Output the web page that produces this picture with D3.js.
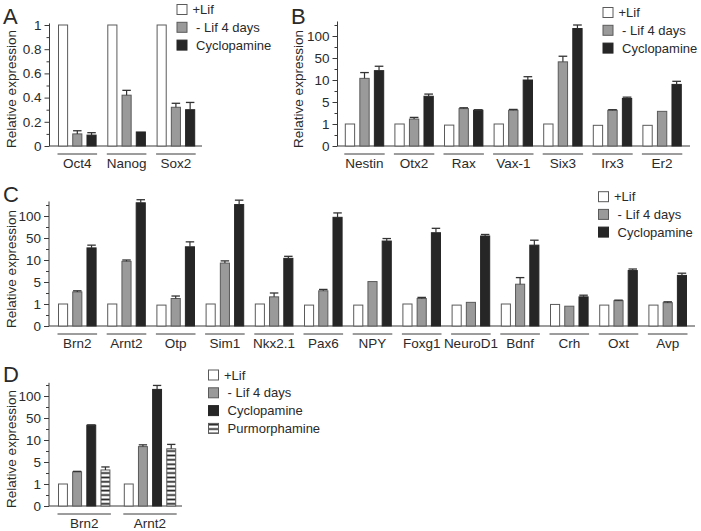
<!DOCTYPE html>
<html>
<head>
<meta charset="utf-8">
<script src="https://cdn.jsdelivr.net/npm/d3@7"></script>
<style>
  body { margin: 0; background: #fff; }
  svg { display: block; font-family: "Liberation Sans", Arial, Helvetica, sans-serif; }
  text { fill: #2a2a2a; }
</style>
</head>
<body>
<svg id="chart" width="701" height="531"></svg>
<script>
// ---------- DATA ----------
const legendLabels = ["+Lif", " - Lif 4 days", " Cyclopamine"];
const legendLabelsD = ["+Lif", " - Lif 4 days", " Cyclopamine", " Purmorphamine"];

const linTicks = [0, 0.2, 0.4, 0.6, 0.8, 1];
const linMinor = [0.1, 0.3, 0.5, 0.7, 0.9];
const logTicks = [0, 1, 5, 10, 50, 100];
const logMinor = [0.5, 3, 7.5, 30, 75, 125];
const logSteps = [0, 1, 5, 10, 50, 100, 150];

// Panel A
const aGenes = ["Oct4", "Nanog", "Sox2"];
const aLif = [1, 1, 1];
const aNoLif = [0.10, 0.42, 0.32];
const aNoLifErr = [0.126, 0.46, 0.353];
const aCyclo = [0.09, 0.116, 0.30];
const aCycloErr = [0.11, 0.116, 0.36];

// Panel B
const bGenes = ["Nestin", "Otx2", "Rax", "Vax-1", "Six3", "Irx3", "Er2"];
const bLif = [1, 1, 0.95, 1, 1, 0.94, 0.94];
const bNoLif = [13, 1.9, 3.8, 3.5, 43, 3.5, 3.3];
const bNoLifErr = [23.5, 2.2, 3.95, 3.65, 54, 3.6, 3.3];
const bCyclo = [27, 6.3, 3.5, 10, 117, 5.8, 9.0];
const bCycloErr = [35, 6.8, 3.6, 16, 125, 6.1, 9.7];

// Panel C
const cGenes = ["Brn2", "Arnt2", "Otp", "Sim1", "Nkx2.1", "Pax6", "NPY", "Foxg1", "NeuroD1", "Bdnf", "Crh", "Oxt", "Avp"];
const cLif = [1, 1, 0.95, 1, 1, 0.95, 0.95, 1, 0.95, 1, 0.98, 0.95, 0.95];
const cNoLif = [3.2, 9.7, 2.0, 9.3, 2.3, 3.4, 5.1, 2.0, 1.3, 4.6, 0.9, 1.6, 1.24];
const cNoLifErr = [3.4, 10, 2.45, 9.8, 3.0, 3.65, 5.1, 2.2, 1.3, 6.0, 0.9, 1.7, 1.4];
const cCyclo = [32, 130, 34, 126, 13, 97, 44.5, 62, 54.5, 37, 2.3, 7.6, 6.5];
const cCycloErr = [37, 137, 43, 136, 16.7, 107, 49, 72, 58, 46, 2.6, 7.95, 7.0];

// Panel D
const dGenes = ["Brn2", "Arnt2"];
const dLif = [1, 1];
const dNoLif = [3.2, 8.5];
const dNoLifErr = [3.3, 8.9];
const dCyclo = [37, 115];
const dCycloErr = [37.5, 124];
const dPurmo = [3.55, 8.0];
const dPurmoErr = [4.1, 9.0];

// ---------- DRAWING ----------
const svg = d3.select("#chart");
const FONT = 13.5;
const AXIS = "#3a3a3a";
const styles = [
  { fill: "#ffffff", stroke: "#5a5a5a" },
  { fill: "#9a9a9a", stroke: "#5a5a5a" },
  { fill: "#262626", stroke: "#262626" },
  { fill: "url(#hatch)", stroke: "#5a5a5a" }
];

const defs = svg.append("defs");
const pat = defs.append("pattern").attr("id", "hatch")
  .attr("patternUnits", "userSpaceOnUse").attr("width", 8).attr("height", 4.4);
pat.append("rect").attr("width", 8).attr("height", 4.4).attr("fill", "#fff");
pat.append("rect").attr("y", 1.4).attr("width", 8).attr("height", 1.7).attr("fill", "#1e1e1e");

function panel(cfg) {
  const g = svg.append("g");
  const y = cfg.y;
  // y axis
  const major = d3.axisLeft(y).tickValues(cfg.ticks).tickSize(5).tickPadding(3).tickFormat(cfg.fmt);
  const minor = d3.axisLeft(y).tickValues(cfg.minor).tickSize(3).tickFormat("");
  const ax = g.append("g").attr("transform", `translate(${cfg.x0},0)`).call(major);
  const ax2 = g.append("g").attr("transform", `translate(${cfg.x0},0)`).call(minor);
  [ax, ax2].forEach(a => {
    a.select(".domain").remove();
    a.selectAll("line").attr("stroke", AXIS);
    a.selectAll("text").attr("font-size", FONT).attr("fill", "#2a2a2a").attr("font-family", null);
  });
  g.append("line").attr("x1", cfg.x0).attr("x2", cfg.x0)
    .attr("y1", y(0)).attr("y2", y(cfg.topVal)).attr("stroke", AXIS);
  g.append("line").attr("x1", cfg.x0).attr("x2", cfg.xEnd)
    .attr("y1", y(0)).attr("y2", y(0)).attr("stroke", AXIS);

  // axis title
  g.append("text")
    .attr("transform", `translate(${cfg.titleX},${cfg.titleY}) rotate(-90)`)
    .attr("text-anchor", "middle").attr("font-size", FONT)
    .text("Relative expression");

  // panel letter
  g.append("text").attr("x", cfg.letterX).attr("y", cfg.letterY)
    .attr("font-size", 22).text(cfg.letter);

  // bars
  const n = cfg.genes.length;
  const xg = d3.scaleBand().domain(cfg.genes)
    .range([cfg.gStart, cfg.gStart + cfg.gStep * n]).padding(0);
  const xi = d3.scaleBand().domain(d3.range(cfg.series.length))
    .range([0, cfg.inner]).paddingInner(cfg.innerPad).paddingOuter(0);
  const bw = xi.bandwidth();

  cfg.series.forEach((s, si) => {
    cfg.genes.forEach((gene, gi) => {
      const x = xg(gene) + xi(si);
      const v = s.values[gi];
      g.append("rect").attr("x", x + 0.5).attr("y", y(v))
        .attr("width", bw - 1).attr("height", y(0) - y(v))
        .attr("fill", styles[s.style].fill).attr("stroke", styles[s.style].stroke)
        .attr("stroke-width", 1);
      if (s.errs && s.errs[gi] > v) {
        const cx = x + bw / 2;
        const e = s.errs[gi];
        g.append("line").attr("x1", cx).attr("x2", cx).attr("y1", y(v)).attr("y2", y(e))
          .attr("stroke", "#333").attr("stroke-width", 1.2);
        g.append("line").attr("x1", cx - bw * 0.42).attr("x2", cx + bw * 0.42)
          .attr("y1", y(e)).attr("y2", y(e)).attr("stroke", "#333").attr("stroke-width", 1.3);
      }
    });
  });

  // group underlines + labels
  cfg.genes.forEach(gene => {
    const x1 = xg(gene) - 0.5, x2 = xg(gene) + cfg.inner + 0.5;
    g.append("line").attr("x1", x1).attr("x2", x2)
      .attr("y1", y(0) + 8).attr("y2", y(0) + 8).attr("stroke", AXIS);
    g.append("text").attr("x", (x1 + x2) / 2).attr("y", y(0) + 21.5)
      .attr("text-anchor", "middle").attr("font-size", FONT).text(gene);
  });

  // legend
  if (cfg.legend) {
    const L = cfg.legend;
    L.labels.forEach((lab, i) => {
      const cy = L.y + i * L.dy;
      g.append("rect").attr("x", L.x + 0.5).attr("y", cy - 5)
        .attr("width", 10).attr("height", 10)
        .attr("fill", styles[i].fill).attr("stroke", styles[i].stroke);
      g.append("text").attr("x", L.x + 16).attr("y", cy + 4.5)
        .attr("font-size", 13).attr("xml:space", "preserve")
        .style("white-space", "pre").text(lab);
    });
  }
}

function logScale(y0) {
  return d3.scaleLinear().domain(logSteps).range(logSteps.map((d, i) => y0 - 22 * i));
}
const logFmt = d => String(d);

// Panel A
panel({
  letter: "A", letterX: 3, letterY: 24,
  x0: 49.5, xEnd: 202, y: d3.scaleLinear().domain([0, 1]).range([146, 25]),
  ticks: linTicks, minor: linMinor, fmt: d => (d === 0 || d === 1) ? String(d) : d.toFixed(1), topVal: 1.013,
  titleX: 15.5, titleY: 89,
  genes: aGenes, gStart: 58, gStep: 49.3, inner: 38.6, innerPad: 0.29,
  series: [
    { values: aLif, style: 0 },
    { values: aNoLif, errs: aNoLifErr, style: 1 },
    { values: aCyclo, errs: aCycloErr, style: 2 }
  ],
  legend: { x: 176.5, y: 9.5, dy: 17.8, labels: legendLabels }
});

// Panel B
panel({
  letter: "B", letterX: 291, letterY: 23.5,
  x0: 337.5, xEnd: 690, y: logScale(146),
  ticks: logTicks, minor: logMinor, fmt: logFmt, topVal: 133,
  titleX: 303, titleY: 89,
  genes: bGenes, gStart: 344.8, gStep: 49.6, inner: 39.4, innerPad: 0.29,
  series: [
    { values: bLif, style: 0 },
    { values: bNoLif, errs: bNoLifErr, style: 1 },
    { values: bCyclo, errs: bCycloErr, style: 2 }
  ],
  legend: { x: 602.5, y: 12.5, dy: 17.8, labels: legendLabels }
});

// Panel C
panel({
  letter: "C", letterX: 3, letterY: 202,
  x0: 49, xEnd: 695, y: logScale(326),
  ticks: logTicks, minor: logMinor, fmt: logFmt, topVal: 133,
  titleX: 15.5, titleY: 269,
  genes: cGenes, gStart: 58, gStep: 49.2, inner: 38.6, innerPad: 0.29,
  series: [
    { values: cLif, style: 0 },
    { values: cNoLif, errs: cNoLifErr, style: 1 },
    { values: cCyclo, errs: cCycloErr, style: 2 }
  ],
  legend: { x: 598, y: 196.7, dy: 17.7, labels: legendLabels }
});

// Panel D
panel({
  letter: "D", letterX: 3, letterY: 381.5,
  x0: 49, xEnd: 182, y: logScale(506),
  ticks: logTicks, minor: logMinor, fmt: logFmt, topVal: 130,
  titleX: 15.5, titleY: 449,
  genes: dGenes, gStart: 58, gStep: 65.8, inner: 52.4, innerPad: 0.3,
  series: [
    { values: dLif, style: 0 },
    { values: dNoLif, errs: dNoLifErr, style: 1 },
    { values: dCyclo, errs: dCycloErr, style: 2 },
    { values: dPurmo, errs: dPurmoErr, style: 3 }
  ],
  legend: { x: 208, y: 375, dy: 17.8, labels: legendLabelsD }
});
</script>
</body>
</html>
